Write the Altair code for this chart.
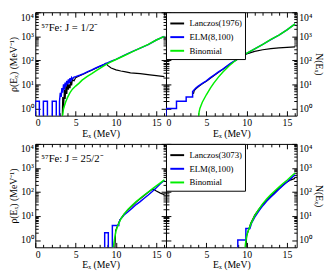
import altair as alt
import pandas as pd

FONT = "Liberation Serif"

# ---------------- data ----------------
# top-left: rho(Ex), J = 1/2-
tl_elm_x = [0, 0, 0.5, 0.5, 1.0, 1.0, 1.5, 1.5, 2.1, 2.1, 2.6, 2.6, 3.0, 3.0, 3.1, 3.2, 3.3, 3.4, 3.5, 3.6, 3.7,
            3.8, 3.9, 4.0, 4.1, 4.2, 4.3, 4.4, 4.5, 4.6, 4.8, 5.0, 5.5, 6.0, 6.5, 7.0, 7.5, 8.0, 8.5, 9.0, 9.5,
            10, 11, 12, 13, 14, 15, 16]
tl_elm_y = [0.1, 2, 2, 0.1, 0.1, 2, 2, 0.1, 0.1, 2, 2, 0.1, 0.1, 2, 4.5, 3, 7, 4.5, 10, 6, 12, 8, 14, 10, 16,
            11, 18, 13, 19, 17, 20, 21, 24, 28, 34, 40, 48, 57, 67, 80, 95, 110, 160, 230, 320, 450, 700, 1000]
tl_lan_x = [3.3, 3.4, 3.5, 3.6, 3.7, 3.8, 3.9, 4.0, 4.1, 4.2, 4.3, 4.4, 4.5, 4.6, 4.8, 5.0, 5.5, 6.0, 6.5, 7.0,
            7.5, 8.0, 8.5, 8.75, 9.0, 9.4, 10.0, 10.6, 11.2, 11.8, 13.0, 14.2, 15.0, 16.0]
tl_lan_y = [0.1, 3, 1, 6, 2.5, 9, 4, 12, 6, 10, 7, 14, 9, 16, 14, 19, 23, 27, 33, 39, 47, 56, 66, 75, 60, 48,
            40, 36, 33, 30, 28, 25, 23, 21]
tl_bin_x = [3.3, 3.5, 3.75, 4.0, 4.3, 4.6, 5.0, 5.4, 5.8, 6.4, 7.0, 7.6, 8.2, 8.7, 9.2, 10, 11, 12, 13, 14, 15, 16]
tl_bin_y = [0.3, 1.0, 1.8, 2.9, 4.5, 6.3, 8.5, 11, 15, 21, 28, 38, 51, 64, 80, 108, 155, 225, 320, 460, 700, 1000]

# top-right: N(Ex), J = 1/2-
tr_elm_x = [0, 0, 1.3, 1.3, 2.5, 2.5, 3.3, 3.3, 3.5, 3.7, 4.0, 4.5, 5, 5.5, 6, 6.5, 7, 7.5, 8, 8.5, 9, 9.5, 10,
            11, 12, 13, 14, 15, 16]
tr_elm_y = [0.1, 1, 1, 2, 2, 3, 3, 5, 6, 7, 8.5, 11, 14, 19, 25, 33, 42, 56, 75, 95, 120, 155, 195, 300, 460,
            720, 1120, 1850, 3300]
tr_lan_x = [3.4, 3.5, 3.7, 4, 4.5, 5, 6, 7, 8, 9, 9.5, 10, 10.5, 11, 12, 13, 14, 15, 16]
tr_lan_y = [4, 5.5, 6.5, 8, 10.5, 13.5, 24, 41, 72, 118, 150, 185, 210, 235, 275, 305, 328, 348, 365]
tr_bin_x = [4.0, 4.1, 4.2, 4.5, 4.7, 5.0, 5.5, 5.9, 6.5, 7.0, 7.8, 8.5, 9.2, 10.1, 11, 12, 13, 14, 15, 16]
tr_bin_y = [0.3, 0.7, 1.0, 1.8, 2.4, 3.7, 7, 11, 20, 31, 58, 92, 135, 205, 300, 460, 740, 1120, 1850, 3300]

# bottom-left: rho(Ex), J = 25/2-
bl_elm_x = [0, 8.6, 8.6, 9.05, 9.05, 9.55, 9.55, 10.35, 10.35, 10.5, 11, 11.5, 12, 12.5, 13, 13.5, 14, 14.5,
            15, 15.5, 16]
bl_elm_y = [0.1, 0.1, 2, 2, 0.1, 0.1, 4, 4, 5, 7, 11, 15, 21, 30, 40, 55, 75, 105, 150, 220, 310]
bl_lan_x = [9.85, 9.95, 10.2, 10.5, 11, 11.5, 12, 12.5, 13, 13.5, 14, 14.5, 14.7, 15, 15.5, 16]
bl_lan_y = [0.3, 2.5, 4, 7, 12, 18, 26, 38, 52, 72, 98, 130, 128, 110, 90, 78]
bl_bin_x = [9.6, 9.7, 9.8, 10.0, 10.3, 10.6, 11, 11.5, 12, 12.5, 13, 13.5, 14, 14.5, 15, 15.5, 16]
bl_bin_y = [0.3, 0.6, 1.0, 2.4, 4.5, 7.5, 12, 19, 28, 40, 55, 75, 100, 135, 180, 240, 320]

# bottom-right: N(Ex), J = 25/2-
br_elm_x = [0, 8.9, 8.9, 9.9, 9.9, 10.4, 10.6, 11, 11.5, 12, 12.5, 13, 13.5, 14, 14.5, 15, 15.5, 16]
br_elm_y = [0.1, 0.1, 1, 1, 3, 3, 5, 9, 16, 27, 42, 62, 90, 130, 185, 260, 370, 520]
br_lan_x = [9.9, 10.0, 10.5, 11, 11.5, 12, 12.5, 13, 13.5, 14, 14.5, 15, 15.5, 16]
br_lan_y = [0.3, 1.5, 5, 11, 19, 31, 48, 70, 100, 140, 195, 260, 320, 370]
br_bin_x = [9.75, 9.85, 9.95, 10.1, 10.5, 11, 11.5, 12, 12.5, 13, 13.5, 14, 14.5, 15, 15.5, 16]
br_bin_y = [0.3, 0.7, 1.2, 2, 4.5, 10.5, 19, 33, 52, 78, 112, 160, 225, 310, 440, 620]

x_major = [0, 5, 10, 15]
x_minor = [v for v in range(1, 17) if v % 5]
y_major = [1, 10, 100, 1000, 10000]
y_minor = [m * 10 ** k for k in range(4) for m in range(2, 10)]

W, H = 134, 106
XDOM = [0, 16.2]
YDOM = [0.5, 10000]
COLORS = ["black", "#0000ff", "#00ee00"]
SUP = "'10' + ['\u2070','\u00b9','\u00b2','\u00b3','\u2074'][round(log(datum.value)/LN10)]"


def frame(xs, ys, name):
    return pd.DataFrame({"x": xs, "y": ys, "i": list(range(len(xs))), "s": name})


def x_axis(kind):
    base = dict(grid=False, domain=False)
    if kind == 0:
        return alt.Axis(orient="bottom", values=x_major, ticks=False, tickSize=0, labelFont=FONT,
                        labelFontSize=10, labelPadding=2, labelColor="black", title="E\u2093 (MeV)",
                        titleFont=FONT, titleFontSize=10, titleFontWeight="normal", titleColor="black",
                        titlePadding=1, **base)
    vals = x_major if kind in (1, 3) else x_minor
    size = 5 if kind in (1, 3) else 3
    orient = "top" if kind in (1, 2) else "bottom"
    return alt.Axis(orient=orient, offset=-H, values=vals, tickSize=size, tickColor="black",
                    labels=False, title=None, **base)


def y_axis(kind, side, title):
    base = dict(grid=False, domain=False)
    if kind == 0:
        return alt.Axis(orient=side, values=y_major, ticks=False, tickSize=0, labelExpr=SUP,
                        labelFont=FONT, labelFontSize=10, labelPadding=2, labelColor="black",
                        labelFlush=True, title=title, titleFont=FONT, titleFontSize=10,
                        titleFontWeight="normal", titleColor="black", titlePadding=1, **base)
    vals = y_major if kind in (1, 3) else y_minor
    size = 5 if kind in (1, 3) else 3
    orient = "right" if kind in (1, 2) else "left"
    return alt.Axis(orient=orient, offset=-W, values=vals, tickSize=size, tickColor="black",
                    labels=False, title=None, **base)


def panel(series, side, ytitle, note, legend_names=None):
    layers = []
    widths = [1.2, 1.5, 1.5]
    items = list(series) + [series[2], series[2]]
    for k, (xs, ys) in enumerate(items):
        name = legend_names[k] if (legend_names and k < 3) else "s"
        d = frame(xs, ys, name)
        enc = dict(
            x=alt.X("x:Q", scale=alt.Scale(domain=XDOM, nice=False, zero=False), axis=x_axis(k)),
            y=alt.Y("y:Q", scale=alt.Scale(type="log", domain=YDOM, nice=False), axis=y_axis(k, side, ytitle)),
            order=alt.Order("i:Q"),
        )
        if k < 3:
            if legend_names:
                m = alt.Chart(d).mark_line(clip=True, strokeWidth=widths[k])
                enc["color"] = alt.Color(
                    "s:N",
                    scale=alt.Scale(domain=legend_names, range=COLORS),
                    legend=alt.Legend(orient="top-left", title=None, offset=0, strokeColor="black",
                                      fillColor="white", padding=3, symbolType="stroke",
                                      symbolStrokeWidth=2, symbolSize=200, labelFont=FONT,
                                      labelFontSize=9, labelColor="black", rowPadding=0,
                                      labelOffset=4),
                )
            else:
                m = alt.Chart(d).mark_line(clip=True, strokeWidth=widths[k], color=COLORS[k])
        else:
            m = alt.Chart(d).mark_line(clip=True, opacity=0, color="white")
        layers.append(m.encode(**enc))
    if note:
        t = alt.Chart(pd.DataFrame({"t": [note]})).mark_text(
            align="left", baseline="middle", font=FONT, fontSize=11, color="black"
        ).encode(text="t:N", x=alt.value(6), y=alt.value(16))
        layers.append(t)
    return alt.layer(*layers).resolve_axis(x="independent", y="independent").properties(width=W, height=H)


rho_title = "\u03c1(E\u2093) (MeV\u207b\u00b9)"
n_title = "N(E\u2093)"

tl = panel([(tl_lan_x, tl_lan_y), (tl_elm_x, tl_elm_y), (tl_bin_x, tl_bin_y)], "left", rho_title,
           "\u2075\u2077Fe: J = 1/2\u207b")
tr = panel([(tr_lan_x, tr_lan_y), (tr_elm_x, tr_elm_y), (tr_bin_x, tr_bin_y)], "right", n_title, None,
           ["Lanczos(1976)", "ELM(8,100)", "Binomial"])
bl = panel([(bl_lan_x, bl_lan_y), (bl_elm_x, bl_elm_y), (bl_bin_x, bl_bin_y)], "left", rho_title,
           "\u2075\u2077Fe: J = 25/2\u207b")
br = panel([(br_lan_x, br_lan_y), (br_elm_x, br_elm_y), (br_bin_x, br_bin_y)], "right", n_title, None,
           ["Lanczos(3073)", "ELM(8,100)", "Binomial"])

top = alt.hconcat(tl, tr, spacing=0, bounds="flush").resolve_scale(color="independent")
bot = alt.hconcat(bl, br, spacing=0, bounds="flush").resolve_scale(color="independent")
chart = (
    alt.vconcat(top, bot, spacing=4)
    .resolve_scale(color="independent")
    .properties(padding={"left": 0, "top": 0, "right": 0, "bottom": 0}, background="white")
    .configure_view(stroke="black", strokeWidth=1)
)

chart.save("out.html", embed_options={"renderer": "svg", "actions": False})
